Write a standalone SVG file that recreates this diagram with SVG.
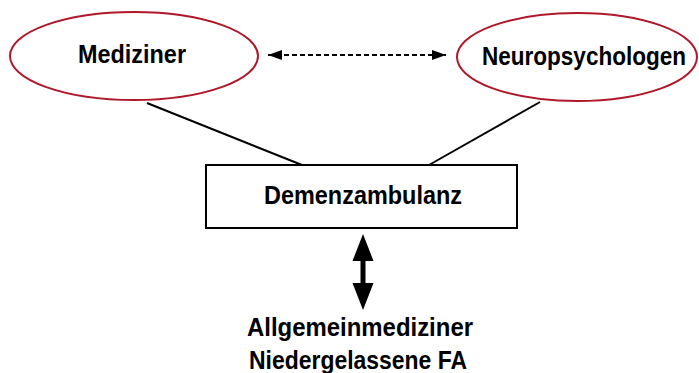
<svg xmlns="http://www.w3.org/2000/svg" width="699" height="373" viewBox="0 0 699 373">
<style>
.lbl{font-family:"Liberation Sans",Arial,sans-serif;font-weight:bold;font-size:25px;fill:#000;text-anchor:middle}
.ell{fill:#fff;stroke:#b0182a;stroke-width:2}
.ln{stroke:#000;stroke-width:2;fill:none}
</style>
<defs>
<marker id="ah" viewBox="0 0 14 10" refX="14" refY="5" markerWidth="14" markerHeight="10" markerUnits="userSpaceOnUse" orient="auto-start-reverse">
<path d="M0,0 L14,5 L0,10 z" fill="#000"/>
</marker>
</defs>
<g id="connectors">
<line class="ln" x1="147" y1="103" x2="302" y2="165"/>
<line class="ln" x1="540" y1="102" x2="429" y2="165"/>
<line x1="268" y1="55" x2="446" y2="55" stroke="#000" stroke-width="2" stroke-dasharray="5,3" marker-start="url(#ah)" marker-end="url(#ah)"/>
<path d="M363,234 L373.5,261 L365.5,261 L365.5,283 L373.5,283 L363,310 L352.5,283 L360.5,283 L360.5,261 L352.5,261 z" fill="#000"/>
</g>
<g id="mediziner">
<ellipse class="ell" cx="134" cy="56" rx="124" ry="44"/>
<text class="lbl" x="132" y="63" textLength="108" lengthAdjust="spacingAndGlyphs">Mediziner</text>
</g>
<g id="neuropsychologen">
<ellipse class="ell" cx="577" cy="57" rx="120" ry="44"/>
<text class="lbl" x="584" y="65" textLength="204" lengthAdjust="spacingAndGlyphs">Neuropsychologen</text>
</g>
<g id="demenzambulanz">
<rect x="206" y="165" width="311" height="63" fill="#fff" stroke="#000" stroke-width="2"/>
<text class="lbl" x="363" y="204" textLength="198" lengthAdjust="spacingAndGlyphs">Demenzambulanz</text>
</g>
<g id="allgemeinmediziner">
<text class="lbl" x="360" y="336" textLength="226" lengthAdjust="spacingAndGlyphs">Allgemeinmediziner</text>
<text class="lbl" x="358" y="369" textLength="218" lengthAdjust="spacingAndGlyphs">Niedergelassene FA</text>
</g>
</svg>
